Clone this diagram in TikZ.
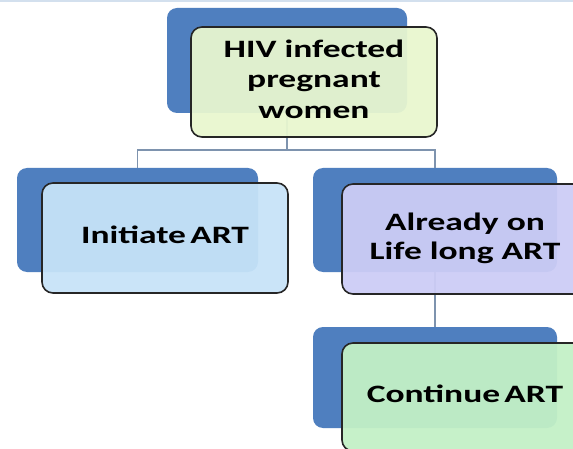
\documentclass[tikz,border=0pt]{standalone}
\usepackage{fontspec}
\setmainfont{Carlito}
% wide label: text stretched horizontally, lines centred
\newcommand{\widelabel}[1]{\scalebox{1.42}[1]{\begin{tabular}{@{}c@{}}#1\end{tabular}}}
\begin{document}
\begin{tikzpicture}[x=1pt,y=-1pt,
  back/.style={draw=none,fill=backblue,rounded corners=10pt,inner sep=0pt},
  card/.style={draw=black!85,line width=1.6pt,rounded corners=11pt,inner sep=0pt,
    minimum width=246pt,minimum height=110pt,fill opacity=0.94,text opacity=1,
    align=center,font=\bfseries\fontsize{25}{29}\selectfont},
  link/.style={draw=linkgray,line width=1.5pt}]
\definecolor{backblue}{HTML}{4F7FBF}
\definecolor{linkgray}{HTML}{7E93AE}
\definecolor{topfill}{HTML}{E9F7CF}
\definecolor{leftfill}{HTML}{C7E3F8}
\definecolor{rightfill}{HTML}{CDCDF6}
\definecolor{botfill}{HTML}{C3F1C6}
\definecolor{edgeline}{HTML}{D3E0EE}
\useasboundingbox (0,0) rectangle (573,449);
\clip (0,0) rectangle (573,449);
\fill[white] (0,0) rectangle (573,449);
\fill[edgeline] (0,0) rectangle (573,2);

% blue backing panels
\node[back,minimum width=240pt,minimum height=105pt] (topb) at (287,60.5) {};
\node[back,minimum width=241pt,minimum height=104pt] (leftb) at (137.5,220) {};
\node[back,minimum width=244pt,minimum height=104pt] (rightb) at (435,220) {};
\node[back,minimum width=244pt,minimum height=101pt] (botb) at (435,377.5) {};

% connectors
\coordinate (bar) at (287,150);
\draw[link] (topb.south) -- (bar);
\draw[link] (leftb.north) |- (bar) -| (rightb.north);
\draw[link] (rightb.south) -- (botb.north);

% front cards
\node[card,fill=topfill] (top) at (314,82) {\widelabel{HIV infected\\[1.5pt]pregnant\\[1.5pt]women}};
\node[card,fill=leftfill] (left) at (165,238) {\widelabel{Initiate\hspace{0.12em}ART}};
\node[card,fill=rightfill] (right) at (465,239) {\widelabel{Already on\\[0pt]Life long ART}};
\node[card,fill=botfill,minimum height=108pt] (bot) at (465,397) {\widelabel{Continue\hspace{0.12em}ART}};
\end{tikzpicture}
\end{document}
